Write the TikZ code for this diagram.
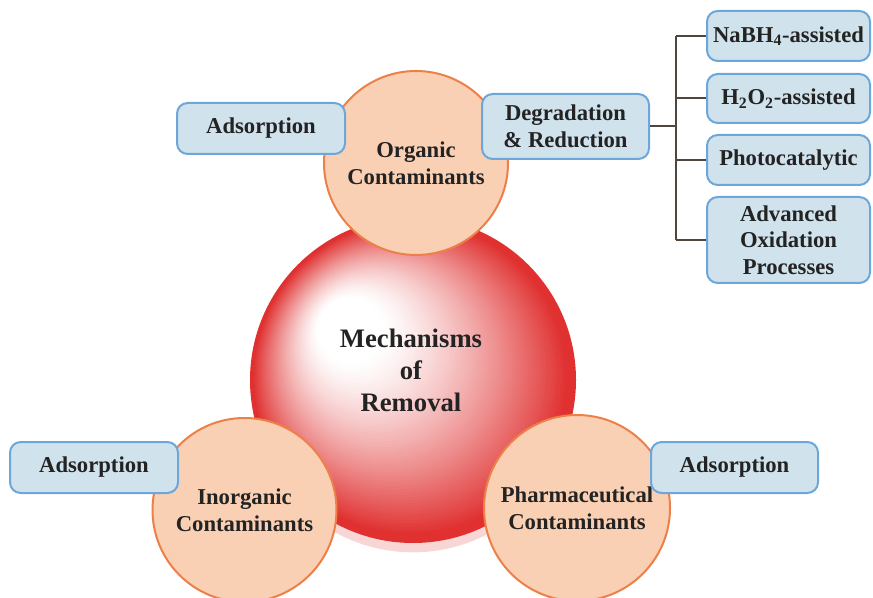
\documentclass[tikz,border=0pt]{standalone}
\usepackage{fontspec}
\setmainfont{Liberation Serif}
\definecolor{boxfill}{RGB}{208,226,236}
\definecolor{boxline}{RGB}{108,166,218}
\definecolor{circfill}{RGB}{250,208,180}
\definecolor{circline}{RGB}{236,128,72}
\definecolor{sphred}{RGB}{224,48,48}
\definecolor{txt}{RGB}{35,35,35}
\definecolor{brk}{RGB}{80,70,62}
\begin{document}
\begin{tikzpicture}[x=0.75pt,y=-0.75pt,
  every node/.style={font=\fontsize{17}{20}\selectfont\bfseries, text=txt, align=center, inner sep=0pt},
  bluebox/.style={draw=boxline, fill=boxfill, line width=1.5pt, rounded corners=8pt},
  contam/.style={circle, draw=circline, fill=circfill, line width=1.5pt, minimum size=138pt},
  brkline/.style={draw=brk, line width=1.5pt}]
\useasboundingbox (0,0) rectangle (873,598);
% central sphere (shadow, then layered radial gradient)
\fill[sphred!20!white] (413,391) circle[radius=121pt];
\node[circle, minimum size=244.5pt] (sphere) at (413,380) {};
\foreach \i in {80,79,...,1}{%
  \pgfmathsetmacro\t{\i/80}%
  \pgfmathsetmacro\b{max(0.001,min(1,(\t-0.2)/0.77))}%
  \pgfmathsetmacro\p{100*(\b^1.3)}%
  \pgfmathsetmacro\cx{335+78*\t}%
  \pgfmathsetmacro\cy{318+62*\t}%
  \pgfmathsetmacro\r{122.25*\t}%
  \fill[sphred!\p!white] (\cx,\cy) circle[radius=\r pt];
}
\node[font=\fontsize{20}{24}\selectfont\bfseries] (mech) at (411,370) {Mechanisms\\of\\Removal};
% contaminant circles
\node[contam] (org) at (416,163) {Organic\\Contaminants};
\node[contam] (inorg) at (244.5,510) {Inorganic\\Contaminants};
\node[contam, minimum size=139.5pt] (pharm) at (577,508) {Pharmaceutical\\Contaminants};
% boxes
\node[bluebox, minimum width=126pt, minimum height=38.25pt] (adsA) at (261,128.5) {Adsorption};
\node[bluebox, minimum width=125.25pt, minimum height=48.75pt] (deg) at (565.5,126.5) {Degradation\\\& Reduction};
\node[bluebox, minimum width=122.25pt, minimum height=37.5pt] (nabh) at (788.5,36) {NaBH\textsubscript{4}-assisted};
\node[bluebox, minimum width=122.25pt, minimum height=36.75pt] (hoo) at (788.5,98.5) {H\textsubscript{2}O\textsubscript{2}-assisted};
\node[bluebox, minimum width=122.25pt, minimum height=37.5pt] (photo) at (788.5,160) {Photocatalytic};
\node[bluebox, minimum width=122.25pt, minimum height=64.5pt] (adv) at (788.5,240) {Advanced\\Oxidation\\Processes};
\node[bluebox, minimum width=126pt, minimum height=38.25pt] (adsB) at (94,467.5) {Adsorption};
\node[bluebox, minimum width=125.25pt, minimum height=38.25pt] (adsC) at (734.5,467.5) {Adsorption};
% bracket
\coordinate (jn) at (676,126.5);
\draw[brkline] (deg.east) -- (jn);
\draw[brkline] (nabh.west -| jn) -- (adv.west -| jn);
\draw[brkline] (nabh.west -| jn) -- (nabh.west);
\draw[brkline] (hoo.west -| jn) -- (hoo.west);
\draw[brkline] (photo.west -| jn) -- (photo.west);
\draw[brkline] (adv.west -| jn) -- (adv.west);
\end{tikzpicture}
\end{document}
